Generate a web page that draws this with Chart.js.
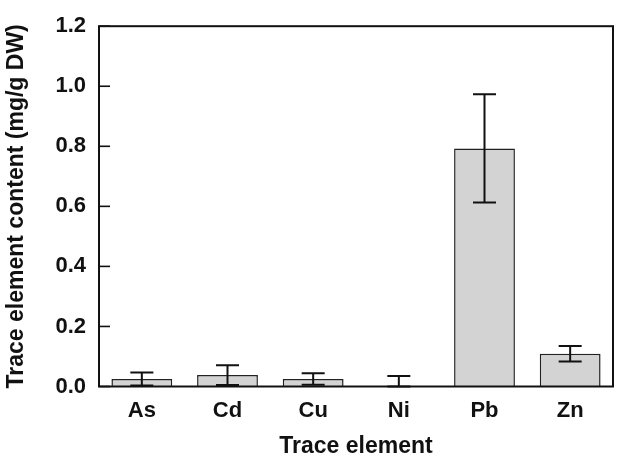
<!DOCTYPE html>
<html>
<head>
<meta charset="utf-8">
<script src="https://cdn.jsdelivr.net/npm/chart.js@4/dist/chart.umd.min.js"></script>
<style>
  html, body { margin: 0; padding: 0; background: #fff; }
  #wrap { width: 622px; height: 462px; position: relative; }
</style>
</head>
<body>
<div id="wrap"><canvas id="c" width="622" height="462"></canvas></div>
<script>
const categories = ["As", "Cd", "Cu", "Ni", "Pb", "Zn"];
const contents = [0.025, 0.038, 0.025, 0.002, 0.793, 0.109];
const errors = [0.022, 0.033, 0.019, 0.033, 0.180, 0.026];
const yTicks = [0.0, 0.2, 0.4, 0.6, 0.8, 1.0, 1.2];

const FONT = "'Liberation Sans', Arial, sans-serif";
const INK = "#111";

const frameAndErrors = {
  id: "frameAndErrors",
  afterDatasetsDraw(chart) {
    const ctx = chart.ctx;
    const y = chart.scales.y;
    const meta = chart.getDatasetMeta(0);
    ctx.save();
    ctx.strokeStyle = INK;
    ctx.lineWidth = 2;
    meta.data.forEach((bar, i) => {
      const v = contents[i], e = errors[i];
      const hi = y.getPixelForValue(v + e);
      const lo = y.getPixelForValue(Math.max(0, v - e));
      const x = bar.x;
      const cap = 11.5;
      ctx.beginPath();
      ctx.moveTo(x, hi); ctx.lineTo(x, lo);
      ctx.moveTo(x - cap, hi); ctx.lineTo(x + cap, hi);
      ctx.moveTo(x - cap, lo); ctx.lineTo(x + cap, lo);
      ctx.stroke();
    });
    const a = chart.chartArea;
    ctx.lineWidth = 1.6;
    yTicks.forEach(t => {
      const py = y.getPixelForValue(t);
      ctx.beginPath();
      ctx.moveTo(a.left, py); ctx.lineTo(a.left + 11, py);
      ctx.stroke();
    });
    ctx.lineWidth = 2;
    ctx.strokeRect(a.left, a.top, a.right - a.left, a.bottom - a.top);
    ctx.restore();
  }
};

new Chart(document.getElementById("c"), {
  type: "bar",
  data: {
    labels: categories,
    datasets: [{
      data: contents,
      backgroundColor: "#d3d3d3",
      borderColor: "#222",
      borderWidth: 1.5,
      barPercentage: 0.71,
      categoryPercentage: 1.0
    }]
  },
  options: {
    responsive: false,
    animation: false,
    devicePixelRatio: 1,
    layout: { padding: { top: 15, right: 9, left: 0, bottom: 0 } },
    plugins: { legend: { display: false }, tooltip: { enabled: false } },
    scales: {
      x: {
        grid: { display: false, drawTicks: false },
        border: { display: false },
        ticks: { color: INK, font: { family: FONT, size: 22, weight: "bold" }, padding: 11 },
        title: { display: true, text: "Trace element", color: INK, font: { family: FONT, size: 23, weight: "bold" }, padding: { top: 0, bottom: 2 } },
        afterFit(s) { s.height = 75.5; }
      },
      y: {
        min: 0, max: 1.2,
        afterBuildTicks(s) { s.ticks = yTicks.map(v => ({ value: v })); },
        grid: { display: false, drawTicks: false },
        border: { display: false },
        ticks: { color: INK, font: { family: FONT, size: 22, weight: "bold" }, padding: 13, callback: v => Number(v).toFixed(1) },
        title: { display: true, text: "Trace element content (mg/g DW)", color: INK, font: { family: FONT, size: 23, weight: "bold" }, padding: { top: 3, bottom: 0 } },
        afterFit(s) { s.width = 99; }
      }
    }
  },
  plugins: [frameAndErrors]
});
</script>
</body>
</html>
